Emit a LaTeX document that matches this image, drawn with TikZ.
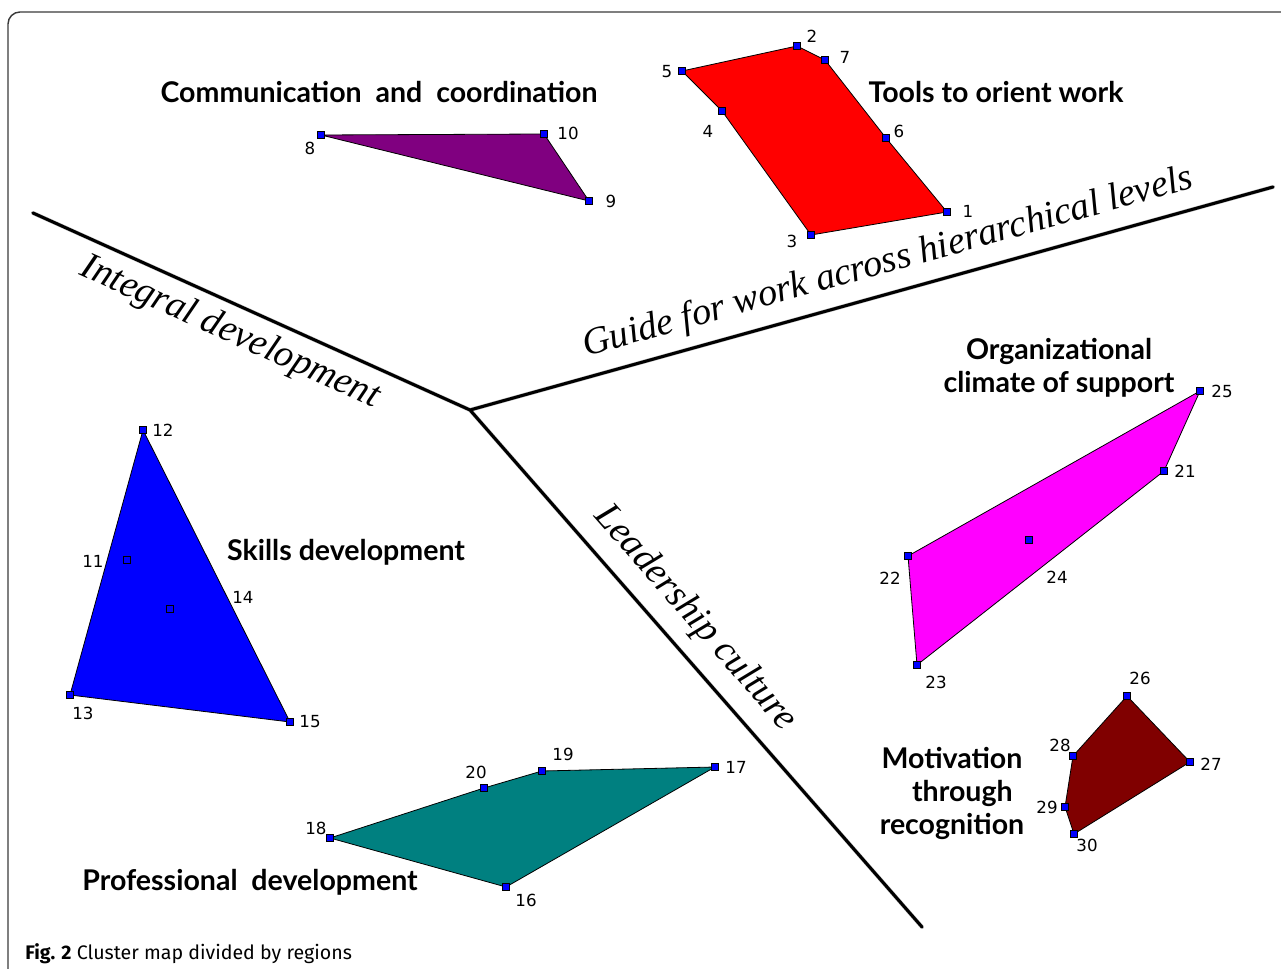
\documentclass[tikz,border=0pt]{standalone}
\usepackage{fontspec}
\usepackage{xcolor}
\usepackage{tikz}
\usetikzlibrary{positioning}
\newfontfamily\titlefont{Lato}
\newfontfamily\numfont{DejaVu Sans}
\newfontfamily\regionfont{Liberation Serif}
\newfontfamily\capfont{Fira Sans}
\definecolor{clpurple}{HTML}{800080}
\definecolor{clred}{HTML}{FF0000}
\definecolor{clblue}{HTML}{0000FF}
\definecolor{clteal}{HTML}{008080}
\definecolor{clmagenta}{HTML}{FF00FF}
\definecolor{clmaroon}{HTML}{800000}
\definecolor{framex}{HTML}{3A3A3A}
\tikzset{
  mk/.style={draw=black,fill=clblue,inner sep=0pt,minimum size=5.2pt,line width=0.6pt},
  num/.style={font=\numfont\fontsize{12.5pt}{14pt}\selectfont,inner sep=0pt},
  ttl/.style={font=\titlefont\bfseries\fontsize{21.4pt}{24.75pt}\selectfont,align=center,inner sep=0pt},
  reg/.style={font=\regionfont\itshape\fontsize{28.5pt}{30pt}\selectfont,inner sep=0pt},
  hull/.style={draw=black,line width=0.6pt,line join=round},
  divide/.style={line width=2.3pt,black,line cap=round,line join=round},
  shade/.style={line width=3pt,black!25,line cap=round,line join=round}
}
\begin{document}
\begin{tikzpicture}[x=0.75pt,y=-0.75pt]
\useasboundingbox (0,0) rectangle (1281,969);
% frame
\draw[framex,line width=1.1pt,rounded corners=9] (8,969) |- (1281,12);
% region borders
\coordinate (hub) at (470,410);
\coordinate (wend) at (33,213);
\coordinate (eend) at (1273,187);
\coordinate (send) at (922,927);
\draw[shade,shift={(1.5,2.5)}] (wend) -- (hub) -- (eend) (hub) -- (send);
\draw[divide] (wend) -- (hub) -- (eend) (hub) -- (send);
% cluster points
\foreach \n/\px/\py in {1/947/212,2/797/46,3/811/235,4/722/111,5/682/71,6/886/138,7/825/60,
  8/321/135,9/589/201,10/544/134,11/127/560,12/143/430,13/70/695,14/170/609,15/290/722,
  16/506/887,17/715/767,18/330/838,19/542/771,20/484/788,21/1164/471,22/908/556,23/917/665,
  24/1029/540,25/1200/391,26/1127/696,27/1190/762,28/1073/756,29/1065/807,30/1074/834}
  \coordinate (v\n) at (\px,\py);
% clusters
\filldraw[hull,fill=clpurple] (v8) -- (v10) -- (v9) -- cycle;
\filldraw[hull,fill=clred] (v5) -- (v2) -- (v7) -- (v6) -- (v1) -- (v3) -- (v4) -- cycle;
\filldraw[hull,fill=clblue] (v12) -- (v15) -- (v13) -- cycle;
\filldraw[hull,fill=clteal] (v18) -- (v20) -- (v19) -- (v17) -- (v16) -- cycle;
\filldraw[hull,fill=clmagenta] (v22) -- (v25) -- (v21) -- (v23) -- cycle;
\filldraw[hull,fill=clmaroon] (v26) -- (v27) -- (v30) -- (v29) -- (v28) -- cycle;
\foreach \n in {1,...,30}
  \node[mk] (p\n) at (v\n) {};
% point numbers
\foreach \n/\lx/\ly in {1/968/211,2/812/36,3/792/241,4/708/131,5/667/72,6/899/131,7/845/57,
  8/310/148,9/611/201,10/568/133,11/93/561,12/163/430,13/83/713,14/243/597,15/310/722,
  16/526/900,17/736/767,18/316/828,19/563/754,20/476/772,21/1185/471,22/890/578,23/936/682,
  24/1057/577,25/1222/391,26/1140/678,27/1211/764,28/1060/745,29/1047/807,30/1087/845}
  \node[num] (l\n) at (\lx,\ly) {\n};
% cluster titles
\node[ttl] (comm) at (379,92) {Communication\ \ and\ \ coordination};
\node[ttl] (tools) at (996,92) {Tools to orient work};
\node[ttl] (climate) at (1059,368) {Organizational\\climate of support};
\node[ttl] (skills) at (346,552) {Skills development};
\node[ttl] (prof) at (250,882) {Professional\ \ development};
\node[ttl] (motiv) at (952,793) {Motivation\\\ \ \ through\\recognition};
% region names
\node[reg,rotate=-24.3] (integral) at (230,333) {Integral development};
\node[reg,rotate=15.5] (guide) at (888,263) {Guide for work across hierarchical levels};
\node[reg,rotate=-48.8] (leader) at (695,618) {Leadership culture};
% caption
\node[font=\capfont\fontsize{14.7pt}{16pt}\selectfont,anchor=west,inner sep=0pt] (caption) at (25,954)
  {\textbf{Fig. 2} Cluster map divided by regions};
\end{tikzpicture}
\end{document}
